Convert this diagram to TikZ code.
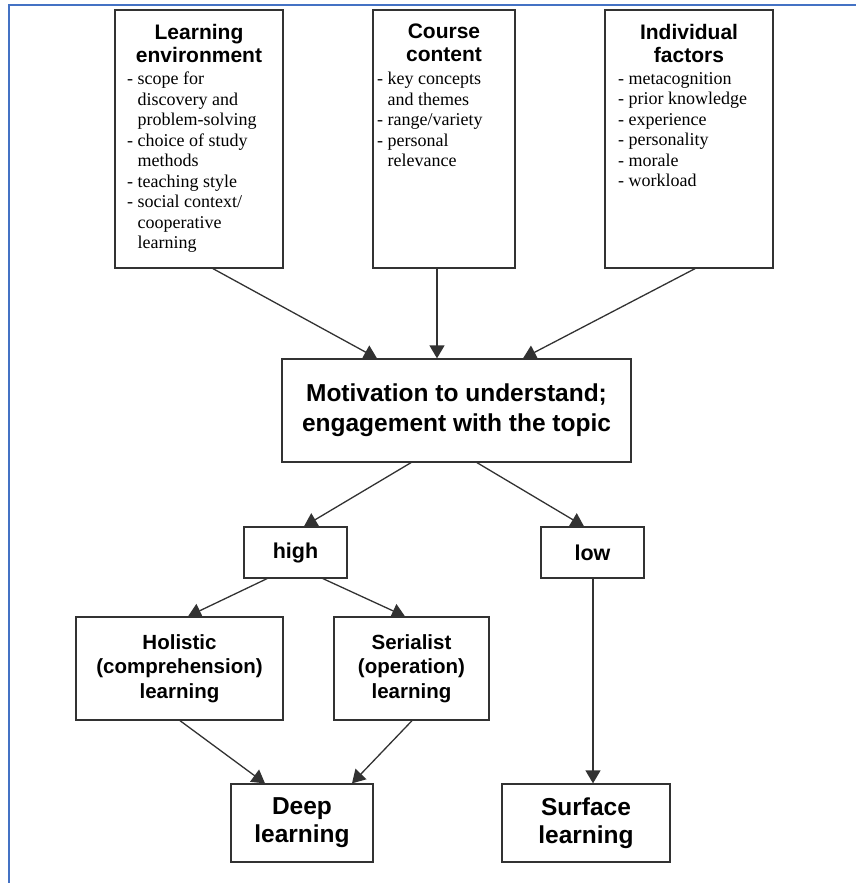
\documentclass[tikz,border=0pt]{standalone}
\usepackage{fontspec}
\setmainfont{Liberation Serif}
\newfontfamily\headfont{Liberation Sans}
\usetikzlibrary{arrows.meta}
\definecolor{frameblue}{RGB}{68,114,196}
\definecolor{ink}{RGB}{50,50,50}
\newcommand\cont{\hspace*{10.5pt}}
\begin{document}
\begin{tikzpicture}[x=1pt,y=-1pt,
  box/.style={draw=ink, line width=1.3pt, inner sep=0pt, fill=white, align=center},
  heading/.style={inner sep=0pt, align=center, anchor=north,
    font=\headfont\bfseries\fontsize{21}{23}\selectfont},
  items/.style={inner sep=0pt, align=left, anchor=north west,
    font=\fontsize{18}{20.5}\selectfont},
  mid/.style={font=\headfont\bfseries\fontsize{20.5}{24.5}\selectfont},
  big/.style={font=\headfont\bfseries\fontsize{24.5}{30}\selectfont},
  arr/.style={draw=ink, line width=1.3pt, -{Triangle[length=13pt,width=15pt]}}
]
\useasboundingbox (0,0) rectangle (856,883);
% frame lines along the top and left edges
\draw[frameblue, line width=2pt] (9,883) -- (9,5) -- (856,5);

% influencing factors
\node[box, minimum width=168pt, minimum height=258pt] (le) at (199,139) {};
\node[heading] (leh) at (199,24) {Learning\\environment};
\node[items] (lei) at (127,72) {- scope for\\\cont discovery and\\\cont problem-solving\\- choice of study\\\cont methods\\- teaching style\\- social context/\\\cont cooperative\\\cont learning};

\node[box, minimum width=142pt, minimum height=258pt] (cc) at (444,139) {};
\node[heading] (cch) at (444,24) {Course\\content};
\node[items] (cci) at (377,72) {- key concepts\\\cont and themes\\- range/variety\\- personal\\\cont relevance};

\node[box, minimum width=168pt, minimum height=258pt] (if) at (689,139) {};
\node[heading] (ifh) at (689,24) {Individual\\factors};
\node[items] (ifi) at (618,72) {- metacognition\\- prior knowledge\\- experience\\- personality\\- morale\\- workload};

% motivation and its levels
\node[box, big, minimum width=349pt, minimum height=103pt] (mot) at (456.5,410.5) {Motivation to understand;\\engagement with the topic};
\node[box, font=\headfont\bfseries\fontsize{21.5}{24}\selectfont, minimum width=103pt, minimum height=51pt] (high) at (295.5,552.5) {high};
\node[box, font=\headfont\bfseries\fontsize{21.5}{24}\selectfont, minimum width=103pt, minimum height=51pt] (low) at (592.5,552.5) {low};

% approaches and outcomes
\node[box, mid, minimum width=207pt, minimum height=103pt] (hol) at (179.5,668.5) {Holistic\\(comprehension)\\learning};
\node[box, mid, minimum width=155pt, minimum height=103pt] (ser) at (411.5,668.5) {Serialist\\(operation)\\learning};
\node[box, font=\headfont\bfseries\fontsize{24.5}{28}\selectfont, minimum width=142pt, minimum height=78pt] (deep) at (302,823) {Deep\\learning};
\node[box, font=\headfont\bfseries\fontsize{24.5}{28}\selectfont, minimum width=168pt, minimum height=78pt] (surf) at (586,823) {Surface\\learning};

% connectors
\draw[arr] ([xshift=14pt]le.south) -- ([xshift=-79.5pt]mot.north);
\draw[arr] ([xshift=-7pt]cc.south) -- ([xshift=-19.5pt]mot.north);
\draw[arr] ([xshift=6pt]if.south) -- ([xshift=66.5pt]mot.north);
\draw[arr] ([xshift=-45.5pt]mot.south) -- ([xshift=8.5pt]high.north);
\draw[arr] ([xshift=20.5pt]mot.south) -- ([xshift=-8.5pt]low.north);
\draw[arr] ([xshift=-28.5pt]high.south) -- ([xshift=8.5pt]hol.north);
\draw[arr] ([xshift=27.5pt]high.south) -- ([xshift=-6.5pt]ser.north);
\draw[arr] ([xshift=0.5pt]hol.south) -- ([xshift=-37pt]deep.north);
\draw[arr] ([xshift=0.5pt]ser.south) -- ([xshift=50pt]deep.north);
\draw[arr] ([xshift=0.5pt]low.south) -- ([xshift=7pt]surf.north);
\end{tikzpicture}
\end{document}
